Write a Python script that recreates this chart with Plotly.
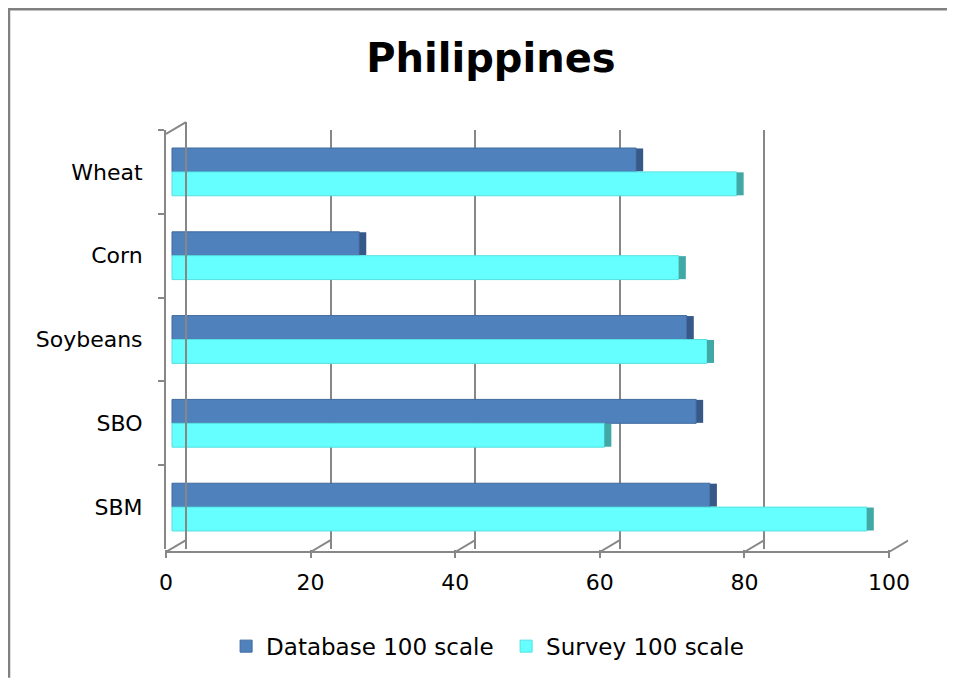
import plotly.graph_objects as go

categories = ["Wheat", "Corn", "Soybeans", "SBO", "SBM"]
database_100 = [64.2, 25.9, 71.2, 72.5, 74.4]
survey_100 = [78.1, 70.1, 74.0, 59.8, 96.1]
x_ticks = [0, 20, 40, 60, 80, 100]

W, H = 947, 671
L, R, T, B = 158, 47, 122, 129
plot_w = W - L - R
plot_h = H - T - B
px_per_unit = 7.23
x_max = plot_w / px_per_unit
depth = 20 / px_per_unit      # back wall offset in x units
mid = 6 / px_per_unit         # bars sit at mid depth
side = 7 / px_per_unit        # visible side face of each 3D bar
rise = 12 / plot_h            # back wall offset in paper y

GRAY = "#878787"
FONT = "DejaVu Sans"

fig = go.Figure()
fig.add_trace(go.Bar(
    y=categories, x=database_100, orientation="h", name="Database 100 scale",
    marker=dict(color="#4F81BD", line=dict(color="#3F6A9E", width=1)),
    error_x=dict(type="constant", value=side, symmetric=False, valueminus=0,
                 color="#36598A", thickness=23, width=0),
))
fig.add_trace(go.Bar(
    y=categories, x=survey_100, orientation="h", name="Survey 100 scale",
    marker=dict(color="#66FFFF", line=dict(color="#55E0E0", width=1)),
    error_x=dict(type="constant", value=side, symmetric=False, valueminus=0,
                 color="#40A9A6", thickness=23, width=0),
))
# invisible anchors so the grid (back wall) and front scale axes render
for ax in ("x2", "x3"):
    fig.add_trace(go.Scatter(x=[0], y=[categories[0]], xaxis=ax, mode="markers",
                             marker=dict(opacity=0), showlegend=False, hoverinfo="skip"))

shapes = []
# outer chart border (top and left)
shapes.append(dict(type="line", xref="paper", yref="paper", x0=-L / plot_w, x1=(W - L) / plot_w,
                   y0=(H - B) / plot_h, y1=(H - B) / plot_h, line=dict(color="#808080", width=4.5)))
shapes.append(dict(type="line", xref="paper", yref="paper", x0=-L / plot_w, x1=-L / plot_w,
                   y0=(H - B) / plot_h, y1=-B / plot_h, line=dict(color="#808080", width=4.5)))
y_floor = -3 / plot_h
# front horizontal axis line
shapes.append(dict(type="line", xref="x3", yref="paper", x0=x_ticks[0], x1=x_ticks[-1],
                   y0=y_floor, y1=y_floor, line=dict(color=GRAY, width=2)))
# 3D floor diagonals at each tick
for v in x_ticks:
    shapes.append(dict(type="line", xref="x3", yref="paper", x0=v, x1=v + depth,
                       y0=y_floor, y1=y_floor + rise, line=dict(color=GRAY, width=2)))
# back wall vertical axis and top bracket
top_front = 1 - 4 / plot_h
shapes.append(dict(type="line", xref="x3", yref="paper", x0=depth, x1=depth,
                   y0=y_floor + rise, y1=top_front + rise, line=dict(color=GRAY, width=2)))
shapes.append(dict(type="line", xref="x3", yref="paper", x0=0, x1=depth,
                   y0=top_front, y1=top_front + rise, line=dict(color=GRAY, width=2)))

fig.update_layout(
    width=W, height=H,
    margin=dict(l=L, r=R, t=T, b=B),
    paper_bgcolor="white", plot_bgcolor="rgba(0,0,0,0)",
    barmode="group", bargap=0.43, bargroupgap=0,
    font=dict(family=FONT, size=20, color="black"),
    title=dict(text="<b>Philippines</b>", x=0.51, xanchor="center", y=0.926, yanchor="middle",
               font=dict(family=FONT, size=40, color="black")),
    xaxis=dict(range=[-mid, x_max - mid], showticklabels=False, showgrid=False,
               zeroline=False, showline=False, ticks=""),
    xaxis2=dict(overlaying="x", range=[-depth, x_max - depth], tickvals=x_ticks,
                showgrid=True, gridcolor=GRAY, gridwidth=2, showticklabels=False,
                zeroline=False, ticks=""),
    xaxis3=dict(overlaying="x", range=[0, x_max], tickvals=x_ticks, showgrid=False,
                zeroline=False, showline=False, ticks="outside", ticklen=8, tickwidth=2,
                tickcolor=GRAY, ticklabelstandoff=6, tickfont=dict(size=22), side="bottom"),
    yaxis=dict(categoryorder="array", categoryarray=categories, autorange="reversed",
               showline=True, linecolor=GRAY, linewidth=2, ticks="outside", ticklen=6,
               tickwidth=2, tickcolor=GRAY, tickson="boundaries", showgrid=False,
               ticklabelstandoff=17, tickfont=dict(size=22)),
    legend=dict(orientation="h", x=0.0810, xanchor="left", y=-0.229, yanchor="middle",
                font=dict(size=23), itemwidth=30, traceorder="normal",
                entrywidth=235, entrywidthmode="pixels"),
    shapes=shapes,
)

fig.write_html("out.html")
